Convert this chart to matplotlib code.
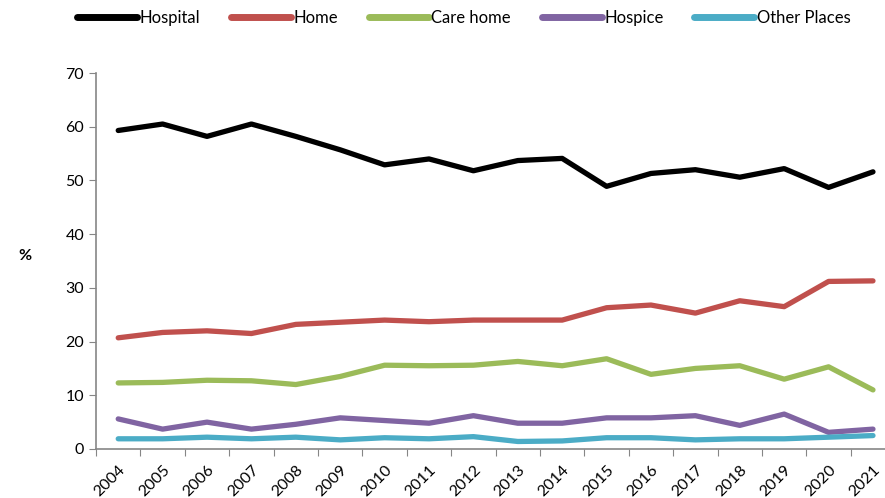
import numpy as np
import matplotlib.pyplot as plt

plt.rcParams['font.family'] = ['Liberation Sans Narrow', 'Lato', 'DejaVu Sans']

years = [str(y) for y in range(2004, 2022)]
hospital = [59.3, 60.5, 58.2, 60.5, 58.2, 55.7, 52.9, 54.0, 51.8, 53.7, 54.1, 48.9,
            51.3, 52.0, 50.6, 52.2, 48.7, 51.6]
home = [20.7, 21.7, 22.0, 21.5, 23.2, 23.6, 24.0, 23.7, 24.0, 24.0, 24.0, 26.3,
        26.8, 25.3, 27.6, 26.5, 31.2, 31.3]
care_home = [12.3, 12.4, 12.8, 12.7, 12.0, 13.5, 15.6, 15.5, 15.6, 16.3, 15.5, 16.8,
             13.9, 15.0, 15.5, 13.0, 15.3, 11.0]
hospice = [5.6, 3.7, 5.0, 3.7, 4.6, 5.8, 5.3, 4.8, 6.2, 4.8, 4.8, 5.8,
           5.8, 6.2, 4.4, 6.5, 3.1, 3.7]
other = [1.9, 1.9, 2.2, 1.9, 2.2, 1.7, 2.1, 1.9, 2.3, 1.4, 1.5, 2.1,
         2.1, 1.7, 1.9, 1.9, 2.2, 2.5]

series = [("Hospital", hospital, "#000000"),
          ("Home", home, "#C0504D"),
          ("Care home", care_home, "#9BBB59"),
          ("Hospice", hospice, "#8064A2"),
          ("Other Places", other, "#4BACC6")]

fig = plt.figure(figsize=(8.85, 4.98), dpi=100)
ax = fig.add_axes([0.1085, 0.0984, 0.903, 0.755])

x = np.arange(len(years))
for name, vals, col in series:
    ax.plot(x, vals, color=col, lw=3.8, label=name, solid_capstyle="round")

ax.set_xlim(-0.5, len(years) - 0.5)
ax.set_ylim(0, 70)
ax.set_yticks(range(0, 71, 10))

# ticks between categories, labels at centres
ax.set_xticks(np.arange(-0.5, len(years), 1.0))
ax.set_xticklabels([])
ax.set_xticks(x, minor=True)
ax.set_xticklabels(years, minor=True, rotation=45, ha="right", va="top",
                   rotation_mode="anchor", fontsize=11.5)
ax.tick_params(axis="x", which="minor", length=0, pad=10)
ax.tick_params(axis="x", which="major", length=5, color="#868686", direction="out")
ax.tick_params(axis="y", length=5, color="#868686", labelsize=11.5)

for s in ["top", "right"]:
    ax.spines[s].set_visible(False)
for s in ["left", "bottom"]:
    ax.spines[s].set_color("#868686")
    ax.spines[s].set_linewidth(1.2)

fig.text(0.028, 0.485, "%", fontsize=11.5, fontweight="bold", ha="center", va="center")

leg = fig.legend(loc="upper center", bbox_to_anchor=(0.524, 1.01), ncol=5, frameon=False,
                 handlelength=3.6, handletextpad=0.15, columnspacing=1.85, fontsize=12)
for h in leg.get_lines():
    h.set_linewidth(5)

plt.savefig("out.png", dpi=100)
